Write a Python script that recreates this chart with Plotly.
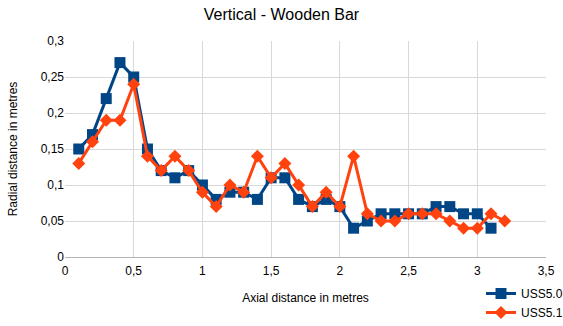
import plotly.graph_objects as go

# Axial positions (m) and radial distances (m) for each probe series
x_uss50 = [0.1, 0.2, 0.3, 0.4, 0.5, 0.6, 0.7, 0.8, 0.9, 1.0, 1.1, 1.2, 1.3, 1.4, 1.5, 1.6,
           1.7, 1.8, 1.9, 2.0, 2.1, 2.2, 2.3, 2.4, 2.5, 2.6, 2.7, 2.8, 2.9, 3.0, 3.1]
y_uss50 = [0.15, 0.17, 0.22, 0.27, 0.25, 0.15, 0.12, 0.11, 0.12, 0.10, 0.08, 0.09, 0.09, 0.08, 0.11, 0.11,
           0.08, 0.07, 0.08, 0.07, 0.04, 0.05, 0.06, 0.06, 0.06, 0.06, 0.07, 0.07, 0.06, 0.06, 0.04]

x_uss51 = [0.1, 0.2, 0.3, 0.4, 0.5, 0.6, 0.7, 0.8, 0.9, 1.0, 1.1, 1.2, 1.3, 1.4, 1.5, 1.6,
           1.7, 1.8, 1.9, 2.0, 2.1, 2.2, 2.3, 2.4, 2.5, 2.6, 2.7, 2.8, 2.9, 3.0, 3.1, 3.2]
y_uss51 = [0.13, 0.16, 0.19, 0.19, 0.24, 0.14, 0.12, 0.14, 0.12, 0.09, 0.07, 0.10, 0.09, 0.14, 0.11, 0.13,
           0.10, 0.07, 0.09, 0.07, 0.14, 0.06, 0.05, 0.05, 0.06, 0.06, 0.06, 0.05, 0.04, 0.04, 0.06, 0.05]

BLUE = "#004586"
ORANGE = "#ff420e"
FONT = "Liberation Sans, Arial, sans-serif"

fig = go.Figure()
fig.add_trace(go.Scatter(
    x=x_uss50, y=y_uss50, name="USS5.0", mode="lines+markers",
    line=dict(color=BLUE, width=3),
    marker=dict(symbol="square", size=11, color=BLUE),
))
fig.add_trace(go.Scatter(
    x=x_uss51, y=y_uss51, name="USS5.1", mode="lines+markers",
    line=dict(color=ORANGE, width=3),
    marker=dict(symbol="diamond", size=10, color=ORANGE),
))

fig.update_layout(
    width=563, height=326,
    margin=dict(l=65, r=17, t=41, b=69, autoexpand=False),
    paper_bgcolor="white", plot_bgcolor="white",
    separators=", ",
    font=dict(family=FONT, size=12, color="#000000"),
    title=dict(text="Vertical - Wooden Bar", x=0.5, xanchor="center",
               y=1 - 14 / 326, yanchor="middle",
               font=dict(family=FONT, size=16, color="#000000")),
    showlegend=True,
    legend=dict(x=481 / 563, xanchor="left", y=1 - 279 / 326, yanchor="top",
                xref="container", yref="container",
                bgcolor="rgba(0,0,0,0)", tracegroupgap=0, itemwidth=30,
                font=dict(family=FONT, size=12, color="#000000")),
)

fig.update_xaxes(
    range=[0, 3.5], dtick=0.5, tick0=0,
    showgrid=True, gridcolor="#d9d9d9", gridwidth=1,
    zeroline=False, showline=True, linecolor="#b3b3b3", linewidth=1,
    ticks="", ticklabelstandoff=3,
    tickfont=dict(family=FONT, size=12, color="#000000"),
    title=dict(text="Axial distance in metres", standoff=16,
               font=dict(family=FONT, size=12, color="#000000")),
)
fig.update_yaxes(
    range=[0, 0.3], dtick=0.05, tick0=0,
    showgrid=True, gridcolor="#d9d9d9", gridwidth=1,
    zeroline=False, showline=False,
    ticks="", tickfont=dict(family=FONT, size=12, color="#000000"),
    title=dict(text="Radial distance in metres", standoff=20,
               font=dict(family=FONT, size=12, color="#000000")),
)

fig.write_html("out.html")
